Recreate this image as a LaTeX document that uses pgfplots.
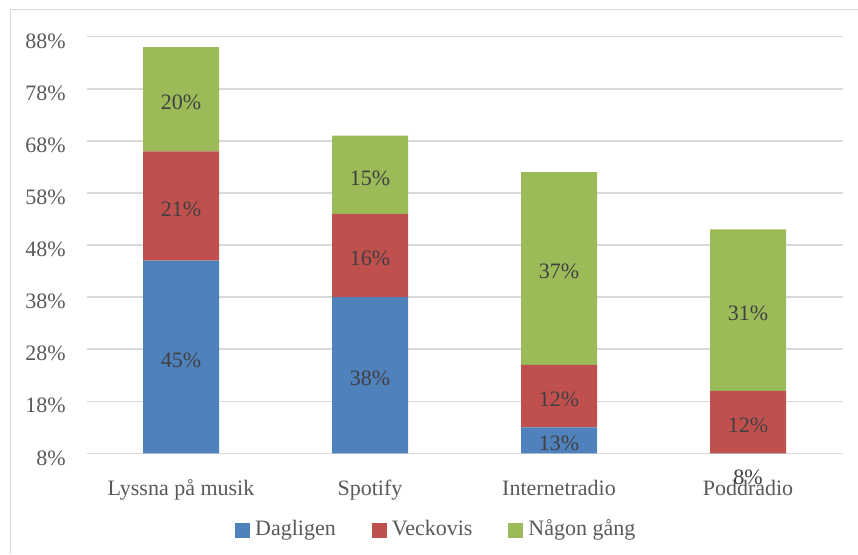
\documentclass[border=0pt]{standalone}
\usepackage{fontspec}
\setmainfont{Liberation Serif}
\usepackage{pgfplots}
\pgfplotsset{compat=1.18}
\usepackage{pgfplotstable}
\definecolor{cblue}{HTML}{4F81BD}
\definecolor{cred}{HTML}{C0504D}
\definecolor{cgreen}{HTML}{9BBB59}
\definecolor{tickgray}{HTML}{595959}
\definecolor{labgray}{HTML}{404040}
\definecolor{gridgray}{HTML}{D9D9D9}

\pgfplotstableread{
x dag veck nagon
0 45 21 20
1 38 16 15
2 13 12 37
3 8 12 31
}\data

% label positions: middle of the visible part of each segment
\pgfplotstableread{
x y v
0 26.5 45
0 55.5 21
0 76 20
1 23 38
1 46 16
1 61.5 15
2 10.5 13
2 19 12
2 43.5 37
3 4 8
3 14 12
3 35.5 31
}\labels

\newcommand{\cfont}{\fontsize{22}{26}\selectfont}

\begin{document}
\begin{tikzpicture}[x=1pt,y=1pt]
\useasboundingbox (0,0) rectangle (858,-554);
\draw[gridgray, line width=1.5pt] (10.5,-554) -- (10.5,-9.5) -- (858,-9.5);
\begin{axis}[
  at={(86.5pt,-453.4pt)}, anchor=south west,
  scale only axis, width=756pt, height=416.7pt,
  xmin=-0.5, xmax=3.5, ymin=8, ymax=88,
  ytick={8,18,28,38,48,58,68,78,88},
  xtick={0,1,2,3},
  xticklabels={Lyssna på musik, Spotify, Internetradio, Poddradio},
  ybar stacked, bar width=76pt,
  axis line style={draw=none},
  major tick length=0pt,
  ymajorgrids,
  grid style={gridgray, line width=1.5pt},
  /pgf/number format/assume math mode=true,
  yticklabel={\pgfmathprintnumber{\tick}\%},
  yticklabel style={font=\cfont, text=tickgray, anchor=base east, inner sep=0pt, xshift=-20.5pt, yshift=-11.6pt},
  xticklabel style={font=\cfont, text=tickgray, anchor=base, inner sep=0pt, yshift=-41.6pt},
  legend columns=3,
  legend style={at={(0.1964,-0.181)}, anchor=west, draw=none, fill=none,
    font=\cfont, text=tickgray, inner sep=0pt, nodes={inner sep=0pt},
    /tikz/every odd column/.append style={column sep=5pt},
    /tikz/every even column/.append style={column sep=36pt}},
  legend image code/.code={\fill[#1] (0pt,-9pt) rectangle (15pt,6pt);},
]
\addplot[fill=cblue, draw=none] table[x=x, y=dag]{\data};
\addlegendentry{Dagligen}
\addplot[fill=cred, draw=none] table[x=x, y=veck]{\data};
\addlegendentry{Veckovis}
\addplot[fill=cgreen, draw=none] table[x=x, y=nagon]{\data};
\addlegendentry{Någon gång}
\end{axis}
\begin{axis}[
  at={(86.5pt,-453.4pt)}, anchor=south west,
  scale only axis, width=756pt, height=416.7pt,
  xmin=-0.5, xmax=3.5, ymin=8, ymax=88,
  hide axis, clip=false,
  /pgf/number format/assume math mode=true,
]
\addplot[draw=none, mark=none, point meta=explicit,
  nodes near coords={\pgfmathprintnumber{\pgfplotspointmeta}\%},
  every node near coord/.append style={anchor=base, inner sep=0pt, yshift=-10.5pt, font=\cfont, text=labgray}]
  table[x=x, y=y, meta=v]{\labels};
\end{axis}
\end{tikzpicture}
\end{document}
